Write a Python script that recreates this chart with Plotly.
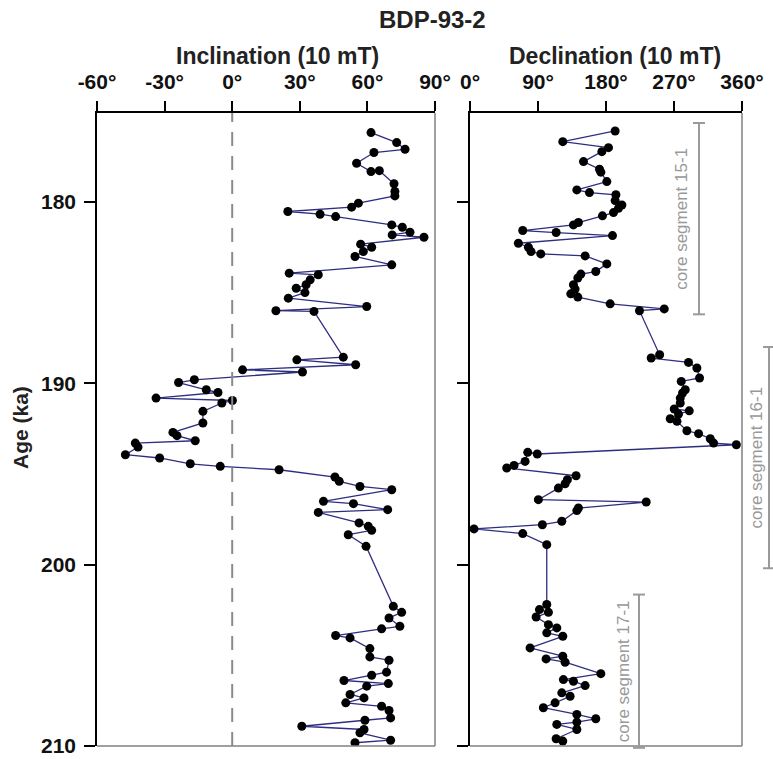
import plotly.graph_objects as go

# ---------------- data ----------------
inc_age = [176.18, 176.73, 177.10, 177.28, 177.87, 178.33, 178.28, 179.00, 179.43, 179.67,
           180.07, 180.29, 180.53, 180.68, 180.81, 181.27, 181.40, 181.67, 181.82, 181.95,
           182.33, 182.50, 182.74, 183.01, 183.47, 183.93, 184.02, 184.30, 184.57, 184.76,
           185.00, 185.31, 185.77, 186.00, 186.04, 188.56, 188.71, 188.98, 189.26, 189.38,
           189.81, 189.96, 190.36, 190.51, 190.82, 190.95, 191.09, 191.55, 192.19, 192.71,
           192.89, 193.17, 193.30, 193.52, 193.94, 194.12, 194.44, 194.58, 194.77, 195.17,
           195.41, 195.69, 195.87, 196.51, 196.64, 196.97, 197.12, 197.70, 197.89, 198.11,
           198.35, 198.99, 202.30, 202.63, 202.94, 203.40, 203.54, 203.91, 204.04, 204.63,
           205.09, 205.27, 205.93, 206.10, 206.39, 206.56, 206.70, 207.16, 207.35, 207.62,
           207.81, 208.04, 208.45, 208.58, 208.91, 209.09, 209.27, 209.68, 209.82]
inclination = [61.6, 73.0, 76.7, 62.9, 55.2, 61.6, 65.3, 71.8, 72.2, 72.2,
               56.0, 53.0, 24.7, 39.0, 45.9, 70.8, 75.5, 78.9, 71.0, 85.1,
               57.0, 61.9, 58.2, 54.5, 70.8, 25.3, 38.2, 34.6, 32.8, 28.4,
               32.3, 24.9, 59.7, 19.4, 36.3, 49.3, 28.7, 54.8, 4.6, 31.2,
               -16.8, -23.8, -11.5, -6.3, -33.8, 0.1, -4.6, -13.0, -13.0, -26.3,
               -24.5, -16.4, -43.0, -41.8, -47.4, -32.2, -18.6, -5.3, 20.8, 45.6,
               47.5, 56.7, 70.8, 40.5, 53.8, 69.0, 38.2, 56.3, 60.4, 61.9,
               51.5, 59.4, 71.5, 75.2, 69.6, 74.4, 66.3, 45.9, 52.3, 61.1,
               61.1, 69.6, 68.5, 61.9, 49.6, 69.3, 59.7, 52.3, 58.5, 50.4,
               66.3, 69.6, 70.3, 58.9, 30.9, 58.5, 56.7, 70.3, 54.5]

dec_age = [176.09, 176.68, 177.01, 177.23, 177.78, 178.20, 178.36, 178.88, 179.34, 179.49,
           179.61, 179.93, 180.17, 180.35, 180.59, 180.77, 181.14, 181.27, 181.58, 181.69,
           181.86, 182.28, 182.50, 182.74, 182.87, 182.98, 183.42, 183.84, 183.98, 184.20,
           184.57, 184.81, 185.07, 185.25, 185.62, 185.90, 186.00, 188.43, 188.61, 188.85,
           189.16, 189.71, 189.90, 190.36, 190.54, 190.82, 191.09, 191.42, 191.52, 191.70,
           191.96, 192.10, 192.62, 192.78, 193.06, 193.30, 193.39, 193.90, 193.81, 194.31,
           194.53, 194.67, 195.10, 195.32, 195.54, 195.78, 196.42, 196.55, 196.88, 197.02,
           197.61, 197.80, 198.03, 198.29, 198.90, 202.20, 202.48, 202.63, 202.89, 203.31,
           203.49, 203.76, 203.95, 204.59, 205.05, 205.20, 205.38, 206.01, 206.34, 206.43,
           206.67, 207.07, 207.26, 207.62, 207.89, 208.26, 208.50, 208.68, 208.81, 209.09,
           209.60, 209.73]
declination = [192.1, 122.8, 183.3, 174.5, 150.2, 171.4, 173.2, 181.1, 141.4, 158.1,
               193.1, 192.1, 201.0, 196.5, 189.9, 175.3, 143.5, 136.9, 69.8, 114.0,
               188.6, 64.0, 77.3, 80.8, 93.7, 152.4, 181.1, 166.5, 146.7, 142.7,
               136.9, 139.1, 133.4, 142.7, 185.5, 257.1, 224.3, 251.0, 239.8, 289.2,
               300.3, 303.8, 279.6, 284.9, 281.3, 278.3, 278.3, 270.3, 290.2, 276.0,
               265.0, 273.9, 287.1, 302.5, 318.0, 322.4, 352.5, 89.0, 76.4, 72.9,
               58.3, 48.6, 140.4, 128.9, 125.9, 117.0, 90.5, 233.2, 143.5, 141.4,
               121.5, 95.8, 5.3, 69.8, 101.6, 101.6, 91.9, 103.8, 87.5, 103.8,
               114.9, 101.6, 122.8, 79.5, 122.8, 100.7, 125.9, 173.2, 123.6, 136.9,
               152.4, 121.5, 132.5, 112.6, 97.1, 141.4, 166.5, 141.4, 114.9, 141.4,
               114.0, 122.8]

inc_ticks = [-60, -30, 0, 30, 60, 90]
inc_ticktext = ["-60°", "-30°", "0°", "30°", "60°", "90°"]
dec_ticks = [0, 90, 180, 270, 360]
dec_ticktext = ["0°", "90°", "180°", "270°", "360°"]
age_ticks = [180, 190, 200, 210]
age_range = [210, 175.1]

# core segments: (label, top age, bottom age)
segments = [("core segment 15-1", 175.65, 186.2),
            ("core segment 16-1", 188.0, 200.2),
            ("core segment 17-1", 201.65, 210.1)]

# ---------------- layout geometry ----------------
OFF = 0                      # body margin removed by post_script
W, H = 773 - OFF, 759 - OFF
def px(x):
    return (x - OFF) / W
def py(y):
    return 1 - (y - OFF) / H
def age_dom(a):
    # fraction of the y-axis domain for an age (axis is reversed)
    return (age_range[0] - a) / (age_range[0] - age_range[1])

FONT = "Liberation Sans, Arial, Helvetica, sans-serif"
LINE_COL = "#2e2e80"

fig = go.Figure()
fig.add_trace(go.Scatter(x=inclination, y=inc_age, xaxis="x", yaxis="y", mode="lines+markers",
                         line=dict(color=LINE_COL, width=1.3),
                         marker=dict(color="black", size=9), showlegend=False))
fig.add_trace(go.Scatter(x=declination, y=dec_age, xaxis="x2", yaxis="y2", mode="lines+markers",
                         line=dict(color=LINE_COL, width=1.3),
                         marker=dict(color="black", size=9), showlegend=False))

tickfont = dict(family=FONT, size=21, color="#111", weight="bold")
ydom = [py(746), py(113)]
common_x = dict(side="top", ticks="outside", ticklen=10, tickwidth=1.5, tickcolor="black",
                showline=True, linecolor="black", linewidth=1.5, showgrid=False, zeroline=False,
                tickfont=tickfont, ticklabelstandoff=4, automargin=False)
common_y = dict(range=age_range, tickvals=age_ticks, ticks="outside", ticklen=11, tickwidth=1.5,
                tickcolor="black", showline=True, linecolor="black", linewidth=1.5,
                showgrid=False, zeroline=False, tickfont=tickfont, domain=ydom, automargin=False,
                ticklabelstandoff=4)

fig.update_layout(
    width=W, height=H, margin=dict(l=0, r=0, t=0, b=0, autoexpand=False),
    paper_bgcolor="white", plot_bgcolor="white",
    xaxis=dict(domain=[px(97), px(435)], range=[-60, 90], tickvals=inc_ticks,
               ticktext=inc_ticktext, anchor="y", **common_x),
    xaxis2=dict(domain=[px(470), px(742)], range=[0, 360], tickvals=dec_ticks,
                ticktext=dec_ticktext, anchor="y2", **common_x),
    yaxis=dict(anchor="x", **common_y),
    yaxis2=dict(anchor="x2", matches="y", showticklabels=False, **common_y),
)

shapes = []
# gray right/bottom frame lines
for xr, yr in (("x domain", "y domain"), ("x2 domain", "y2 domain")):
    shapes.append(dict(type="line", xref=xr, yref=yr, x0=1, x1=1, y0=0, y1=1,
                       line=dict(color="#808080", width=1.5)))
    shapes.append(dict(type="line", xref=xr, yref=yr, x0=0, x1=1, y0=0, y1=0,
                       line=dict(color="#808080", width=1.5)))
# zero dashed line
shapes.append(dict(type="line", xref="x", yref="y domain", x0=0, x1=0, y0=0, y1=1,
                   line=dict(color="#8a8a8a", width=2, dash="14px,10px")))

# core segment bars
bar_x = [699, 769, 639]
text_x = [682, 757, 623]
for (label, a0, a1), bx, tx in zip(segments, bar_x, text_x):
    shapes.append(dict(type="line", xref="paper", yref="y domain", x0=px(bx), x1=px(bx),
                       y0=age_dom(a0), y1=age_dom(a1),
                       line=dict(color="#9a9a9a", width=2)))
    for a in (a0, a1):
        shapes.append(dict(type="line", xref="paper", yref="y domain", x0=px(bx - 6), x1=px(bx + 6),
                           y0=age_dom(a), y1=age_dom(a), line=dict(color="#9a9a9a", width=2)))
    fig.add_annotation(x=px(tx), xref="paper", y=(a0 + a1) / 2, yref="y", text=label,
                       textangle=-90, showarrow=False, xanchor="center", yanchor="middle",
                       font=dict(family=FONT, size=17, color="#999"))

fig.update_layout(shapes=shapes)

titlefont = dict(family=FONT, size=23, color="#222", weight="bold")
fig.add_annotation(x=px(432), y=py(19), xref="paper", yref="paper", text="BDP-93-2",
                   showarrow=False, xanchor="center", yanchor="middle",
                   font=dict(family=FONT, size=24, color="#222", weight="bold"))
fig.add_annotation(x=px(277), y=py(56), xref="paper", yref="paper", text="Inclination (10 mT)",
                   showarrow=False, xanchor="center", yanchor="middle", font=titlefont)
fig.add_annotation(x=px(615), y=py(56), xref="paper", yref="paper", text="Declination (10 mT)",
                   showarrow=False, xanchor="center", yanchor="middle", font=titlefont)
fig.add_annotation(x=px(20), y=py(428), xref="paper", yref="paper", text="Age (ka)",
                   textangle=-90, showarrow=False, xanchor="center", yanchor="middle",
                   font=dict(family=FONT, size=21, color="#222", weight="bold"))

fig.write_html("out.html", config={"displayModeBar": False},
               post_script="document.body.style.margin='0';document.body.style.overflow='hidden';")
